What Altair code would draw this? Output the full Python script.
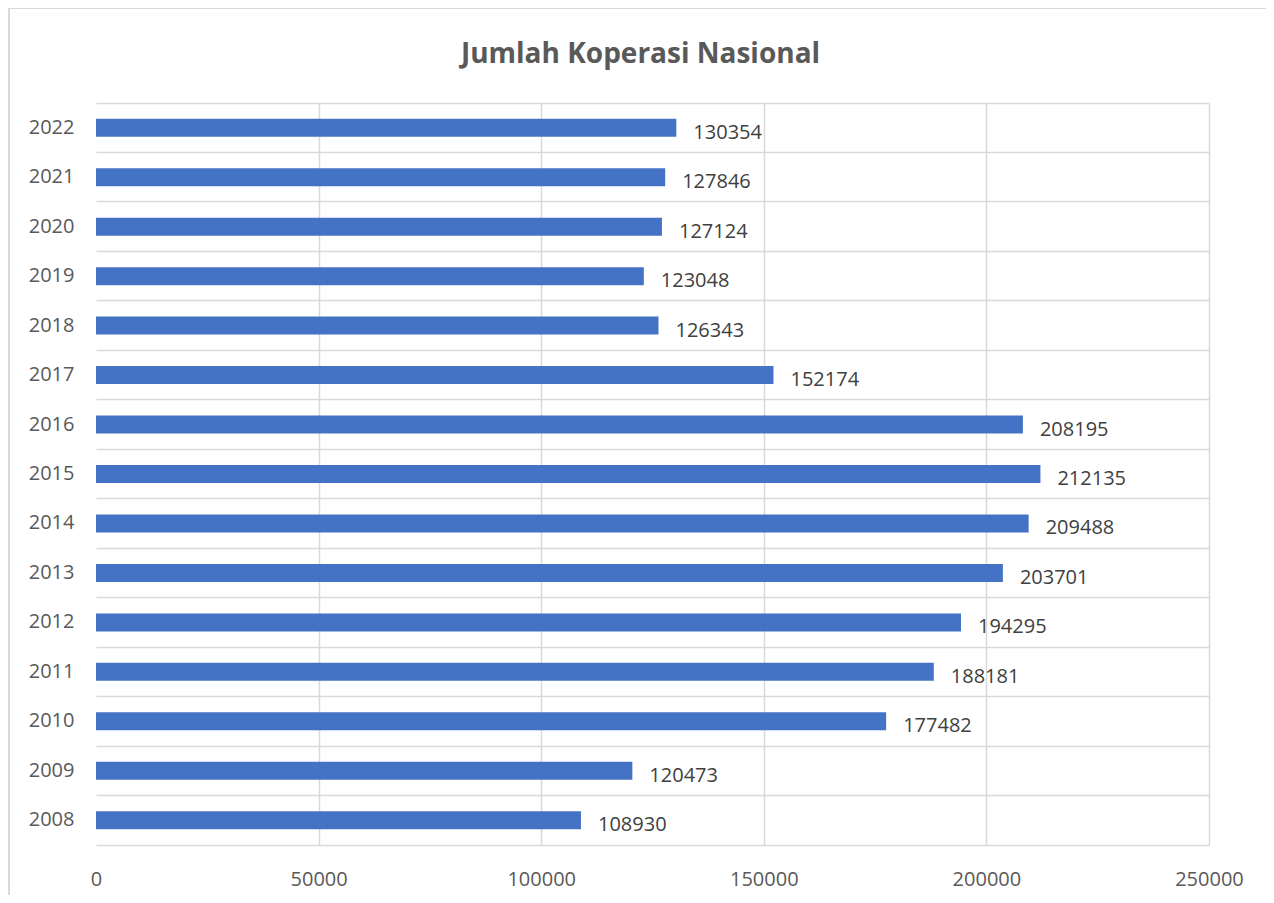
import altair as alt
import pandas as pd

years = ["2022", "2021", "2020", "2019", "2018", "2017", "2016", "2015",
         "2014", "2013", "2012", "2011", "2010", "2009", "2008"]
values = [130354, 127846, 127124, 123048, 126343, 152174, 208195, 212135,
          209488, 203701, 194295, 188181, 177482, 120473, 108930]

df = pd.DataFrame({"year": years, "value": values})

FONT = "Open Sans"
GRID = "#d9d9d9"

x_enc = alt.X("value:Q",
              scale=alt.Scale(domain=[0, 250000], nice=False),
              axis=alt.Axis(values=[0, 50000, 100000, 150000, 200000, 250000],
                            format="d", title=None, ticks=False, labelFlush=False,
                            domainColor=GRID, domainWidth=1.5,
                            gridColor={"condition": {"test": "datum.value === 0", "value": "transparent"},
                                       "value": GRID},
                            gridWidth=1.5,
                            labelFont=FONT, labelFontSize=20, labelColor="#595959",
                            labelPadding=24))
y_enc = alt.Y("year:N", sort=years,
              scale=alt.Scale(paddingInner=0, paddingOuter=0),
              axis=alt.Axis(title=None, ticks=False, domain=False,
                            grid=True, bandPosition=0, gridColor=GRID, gridWidth=1.5,
                            labelFont=FONT, labelFontSize=20, labelColor="#595959",
                            labelPadding=22))

bars = alt.Chart(df).mark_bar(size=18, color="#4472C4").encode(x=x_enc, y=y_enc)

labels = alt.Chart(df).mark_text(align="left", baseline="middle", dx=17, dy=5,
                                 font=FONT, fontSize=20, color="#404040").encode(
    x="value:Q", y=alt.Y("year:N", sort=years), text="value:Q")

border = alt.Chart(df).mark_rect(fill=None, stroke="#d9d9d9", strokeWidth=1.5, clip=False).encode(
    x=alt.value(-87), x2=alt.value(1176), y=alt.value(-95), y2=alt.value(820))

chart = alt.layer(bars, labels, border).properties(
    width=1113, height=742,
    autosize=alt.AutoSizeParams(type="none"),
    padding={"left": 88, "top": 95, "right": 57, "bottom": 50},
    title=alt.TitleParams("Jumlah Koperasi Nasional", font=FONT, fontSize=28,
                          fontWeight="bold", color="#595959", anchor="middle",
                          frame="group", offset=-62, dx=-12),
).configure_view(stroke=None)

chart.save("out.html", embed_options={"renderer": "svg", "actions": False})
